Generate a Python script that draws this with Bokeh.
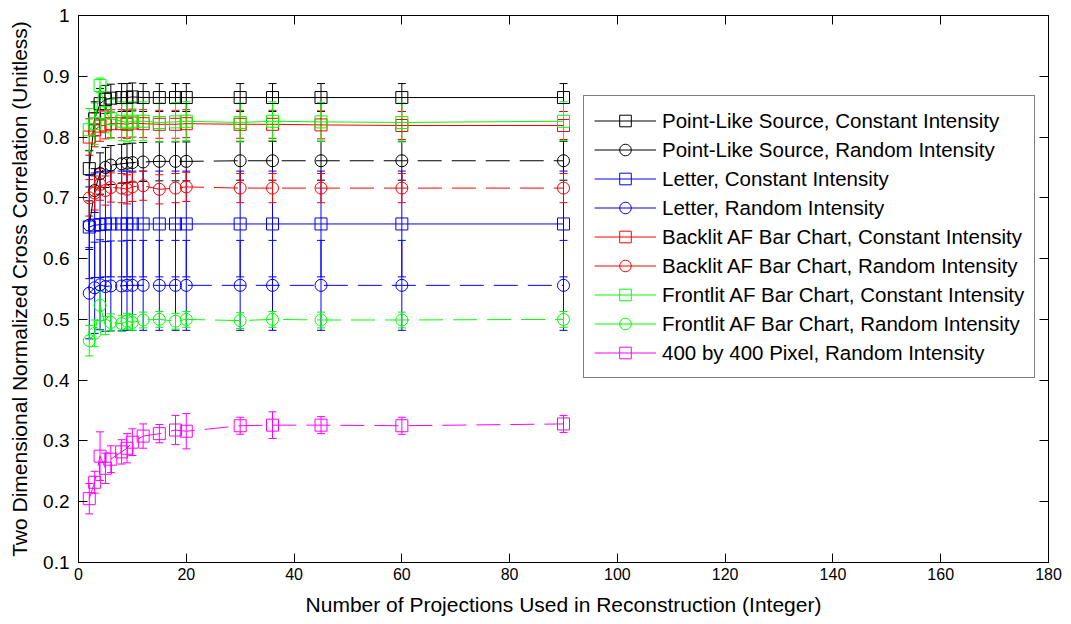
from bokeh.plotting import figure
from bokeh.models import (ColumnDataSource, Whisker, TeeHead, Legend, LegendItem,
                          LinearAxis, FixedTicker, Range1d, CustomJSTickFormatter)
from bokeh.embed import file_html
from bokeh.resources import INLINE

# ---------------- data ----------------
projections = [2, 3, 4, 5, 6, 8, 9, 10, 12, 15, 18, 20, 30, 36, 45, 60, 90]

point_const = [0.748, 0.830, 0.855, 0.862, 0.864, 0.865, 0.865, 0.866, 0.865, 0.865, 0.865, 0.865, 0.865, 0.865, 0.865, 0.865, 0.865]
point_const_err = [0.030, 0.028, 0.025, 0.023, 0.023, 0.023, 0.023, 0.023, 0.023, 0.023, 0.023, 0.023, 0.023, 0.023, 0.023, 0.023, 0.023]

point_rand = [0.655, 0.712, 0.740, 0.750, 0.754, 0.756, 0.757, 0.758, 0.759, 0.760, 0.760, 0.760, 0.761, 0.761, 0.761, 0.761, 0.761]
point_rand_err = [0.040, 0.036, 0.034, 0.033, 0.032, 0.032, 0.032, 0.032, 0.032, 0.032, 0.032, 0.032, 0.032, 0.032, 0.032, 0.032, 0.032]

letter_const = [0.652, 0.655, 0.656, 0.657, 0.657, 0.657, 0.657, 0.657, 0.657, 0.657, 0.657, 0.657, 0.657, 0.657, 0.657, 0.657, 0.657]
letter_const_err = [0.085, 0.086, 0.087, 0.087, 0.087, 0.087, 0.087, 0.087, 0.087, 0.087, 0.087, 0.087, 0.087, 0.087, 0.087, 0.087, 0.087]

letter_rand = [0.543, 0.552, 0.557, 0.554, 0.555, 0.555, 0.556, 0.556, 0.556, 0.556, 0.556, 0.556, 0.556, 0.556, 0.556, 0.556, 0.556]
letter_rand_err = [0.075, 0.075, 0.074, 0.074, 0.074, 0.074, 0.074, 0.074, 0.074, 0.074, 0.074, 0.074, 0.074, 0.074, 0.074, 0.074, 0.074]

backlit_const = [0.800, 0.812, 0.818, 0.820, 0.822, 0.822, 0.821, 0.823, 0.822, 0.821, 0.821, 0.822, 0.821, 0.821, 0.820, 0.819, 0.819]
backlit_const_err = [0.030, 0.028, 0.025, 0.023, 0.023, 0.023, 0.023, 0.023, 0.023, 0.023, 0.023, 0.023, 0.023, 0.023, 0.023, 0.023, 0.023]

backlit_rand = [0.700, 0.708, 0.722, 0.712, 0.717, 0.716, 0.714, 0.718, 0.720, 0.714, 0.716, 0.718, 0.716, 0.716, 0.716, 0.716, 0.716]
backlit_rand_err = [0.030, 0.028, 0.026, 0.024, 0.024, 0.024, 0.024, 0.024, 0.024, 0.024, 0.024, 0.024, 0.024, 0.024, 0.024, 0.024, 0.024]

frontlit_const = [0.812, 0.822, 0.885, 0.840, 0.830, 0.826, 0.824, 0.826, 0.826, 0.824, 0.825, 0.826, 0.824, 0.826, 0.825, 0.824, 0.826]
frontlit_const_err = [0.035, 0.034, 0.012, 0.033, 0.032, 0.032, 0.032, 0.032, 0.032, 0.032, 0.032, 0.032, 0.032, 0.032, 0.032, 0.032, 0.032]

frontlit_rand = [0.465, 0.477, 0.523, 0.490, 0.495, 0.493, 0.497, 0.495, 0.499, 0.500, 0.497, 0.500, 0.498, 0.500, 0.499, 0.499, 0.500]
frontlit_rand_err = [0.025, 0.022, 0.025, 0.015, 0.014, 0.013, 0.013, 0.013, 0.013, 0.013, 0.013, 0.013, 0.013, 0.013, 0.013, 0.013, 0.013]

pixel_rand = [0.205, 0.232, 0.275, 0.255, 0.270, 0.282, 0.288, 0.298, 0.308, 0.312, 0.318, 0.316, 0.325, 0.326, 0.326, 0.325, 0.328]
pixel_rand_err = [0.025, 0.018, 0.040, 0.025, 0.022, 0.020, 0.024, 0.022, 0.020, 0.015, 0.024, 0.029, 0.014, 0.022, 0.014, 0.014, 0.014]

labels = [
    "Point-Like Source, Constant Intensity",
    "Point-Like Source, Random Intensity",
    "Letter, Constant Intensity",
    "Letter, Random Intensity",
    "Backlit AF Bar Chart, Constant Intensity",
    "Backlit AF Bar Chart, Random Intensity",
    "Frontlit AF Bar Chart, Constant Intensity",
    "Frontlit AF Bar Chart, Random Intensity",
    "400 by 400 Pixel, Random Intensity",
]
values = [point_const, point_rand, letter_const, letter_rand, backlit_const,
          backlit_rand, frontlit_const, frontlit_rand, pixel_rand]
errors = [point_const_err, point_rand_err, letter_const_err, letter_rand_err,
          backlit_const_err, backlit_rand_err, frontlit_const_err,
          frontlit_rand_err, pixel_rand_err]
colors = ["#000000", "#000000", "#0000FF", "#0000FF", "#FF0000", "#FF0000",
          "#00FF00", "#00FF00", "#FF00FF"]
markers = ["square", "circle", "square", "circle", "square", "circle",
           "square", "circle", "square"]
dashes = ["solid", "24 10", "solid", "24 10", "solid", "24 10",
          "solid", "24 10", "24 10"]

x_ticks = [0, 20, 40, 60, 80, 100, 120, 140, 160, 180]
y_ticks = [0.1, 0.2, 0.3, 0.4, 0.5, 0.6, 0.7, 0.8, 0.9, 1.0]
y_tick_labels = ["0.1", "0.2", "0.3", "0.4", "0.5", "0.6", "0.7", "0.8", "0.9", "1"]

FONT = "Liberation Sans"

# ---------------- figure ----------------
p = figure(width=1063, height=620, output_backend="svg", toolbar_location=None,
           x_range=Range1d(0, 180), y_range=Range1d(0.1, 1.0),
           min_border_left=78, min_border_right=15, min_border_top=15,
           min_border_bottom=58)
p.xgrid.visible = False
p.ygrid.visible = False
p.outline_line_color = "black"
p.outline_line_width = 1
p.background_fill_color = "white"
p.border_fill_color = "white"

p.xaxis.ticker = FixedTicker(ticks=x_ticks)
p.yaxis.ticker = FixedTicker(ticks=y_ticks)
p.yaxis.major_label_overrides = {t: l for t, l in zip(y_ticks, y_tick_labels)}

for ax in (p.xaxis[0], p.yaxis[0]):
    ax.major_tick_in = 9
    ax.major_tick_out = 0
    ax.minor_tick_line_color = None
    ax.axis_line_color = "black"
    ax.major_tick_line_color = "black"
    ax.major_label_text_font = FONT
    ax.major_label_text_color = "black"
    ax.axis_label_text_font = FONT
    ax.axis_label_text_font_style = "normal"
    ax.axis_label_text_color = "black"
    ax.axis_label_text_font_size = "21px"

p.xaxis.major_label_text_font_size = "16px"
p.yaxis.major_label_text_font_size = "19px"
p.xaxis.major_label_standoff = 5
p.yaxis.major_label_standoff = 9
p.xaxis.axis_label_standoff = 10
p.yaxis.axis_label_standoff = 9
p.xaxis.axis_label = "Number of Projections Used in Reconstruction (Integer)"
p.yaxis.axis_label = "Two Dimensional Normalized Cross Correlation (Unitless)"

blank = CustomJSTickFormatter(code="return ''")
for loc, tk in (("right", y_ticks), ("above", x_ticks)):
    ax = LinearAxis(ticker=FixedTicker(ticks=tk), formatter=blank,
                    major_tick_in=9, major_tick_out=0,
                    minor_tick_line_color=None, major_label_standoff=0,
                    major_label_text_font_size="1px",
                    axis_line_color="black", major_tick_line_color="black")
    p.add_layout(ax, loc)

# ---------------- series ----------------
nan = float("nan")
items = []
for lab, vals, errs, col, mk, dash in zip(labels, values, errors, colors, markers, dashes):
    src = ColumnDataSource(dict(
        x=projections, y=vals,
        upper=[v + e for v, e in zip(vals, errs)],
        lower=[v - e for v, e in zip(vals, errs)],
    ))
    p.line("x", "y", source=src, line_color=col, line_width=1, line_dash=dash)
    w = Whisker(base="x", upper="upper", lower="lower", source=src,
                dimension="height", line_color=col, line_width=1,
                upper_head=TeeHead(size=8, line_color=col, line_width=1),
                lower_head=TeeHead(size=8, line_color=col, line_width=1))
    p.add_layout(w)
    p.scatter("x", "y", source=src, marker=mk, size=12, fill_color=None,
              line_color=col, line_width=1)
    # legend proxies (solid line + marker, as in the original legend)
    proxy = ColumnDataSource(dict(x=[nan], y=[nan]))
    lr = p.line("x", "y", source=proxy, line_color=col, line_width=1)
    sr = p.scatter("x", "y", source=proxy, marker=mk, size=12, fill_color=None,
                   line_color=col, line_width=1)
    items.append(LegendItem(label=lab, renderers=[lr, sr]))

legend = Legend(items=items, location=(505, 184), margin=0, padding=10,
                spacing=0, glyph_width=62, glyph_height=29, label_height=29,
                label_standoff=6, label_text_font=FONT,
                label_text_font_size="20.5px", label_text_color="black",
                border_line_color="black", border_line_width=1,
                background_fill_color="white", background_fill_alpha=1.0)
p.add_layout(legend, "center")

open("out.html", "w").write(file_html(p, INLINE))
